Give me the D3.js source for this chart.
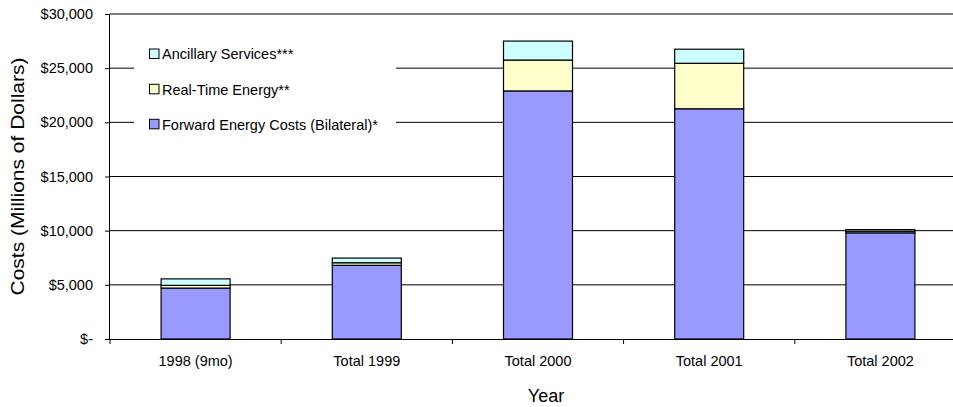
<!DOCTYPE html>
<html><head><meta charset="utf-8">
<script src="https://cdn.jsdelivr.net/npm/d3@7"></script>
<style>body{margin:0;background:#fff}svg{display:block}text{font-family:"Liberation Sans",Arial,sans-serif}</style>
</head><body>
<svg id="c" width="953" height="407"></svg>
<script>
const categories = ["1998 (9mo)", "Total 1999", "Total 2000", "Total 2001", "Total 2002"];
const forwardEnergy = [4700, 6800, 22900, 21250, 9800];
const realTimeEnergy = [250, 240, 2850, 4200, 150];
const ancillary = [600, 430, 1750, 1300, 150];
const seriesNames = ["Forward Energy Costs (Bilateral)*", "Real-Time Energy**", "Ancillary Services***"];
const seriesColors = ["#9999FF", "#FFFFCC", "#CCFFFF"];
const yTicks = [0, 5000, 10000, 15000, 20000, 25000, 30000];

const svg = d3.select("#c");
const pLeft = 110, pRight = 966, pTop = 14, pBottom = 339;
const x = d3.scaleBand().domain(categories).range([pLeft, pRight]).paddingInner(0.597).paddingOuter(0.2985);
const y = d3.scaleLinear().domain([0, 30000]).range([pBottom, pTop]);

// gridlines
svg.append("g").selectAll("line").data(yTicks.filter(d => d > 0)).join("line")
  .attr("x1", pLeft).attr("x2", pRight).attr("y1", d => y(d)).attr("y2", d => y(d))
  .attr("stroke", "#000").attr("stroke-width", 1);

// stacked bars
const rows = categories.map((c, i) => ({cat: c, s0: forwardEnergy[i], s1: realTimeEnergy[i], s2: ancillary[i]}));
const stack = d3.stack().keys(["s0", "s1", "s2"])(rows);
svg.append("g").selectAll("g").data(stack).join("g")
  .attr("fill", (d, i) => seriesColors[i])
  .selectAll("rect").data(d => d).join("rect")
  .attr("x", d => x(d.data.cat)).attr("width", x.bandwidth())
  .attr("y", d => y(d[1])).attr("height", d => y(d[0]) - y(d[1]))
  .attr("stroke", "#000").attr("stroke-width", 1.2);

// legend
const lg = svg.append("g");
lg.append("rect").attr("x", 134).attr("y", 36).attr("width", 262).attr("height", 106).attr("fill", "#fff");
const legendOrder = [2, 1, 0];
const legendY = [54, 89.3, 124.3];
legendOrder.forEach((si, k) => {
  lg.append("rect").attr("x", 149.5).attr("y", legendY[k] - 5).attr("width", 9.5).attr("height", 9.5)
    .attr("fill", seriesColors[si]).attr("stroke", "#000").attr("stroke-width", 1);
  lg.append("text").attr("x", 162).attr("y", legendY[k]).attr("dy", "0.36em")
    .attr("font-size", "14.5px").attr("fill", "#000").text(seriesNames[si]);
});

// y axis
const ya = svg.append("g").attr("transform", `translate(${pLeft},0)`)
  .call(d3.axisLeft(y).tickValues(yTicks).tickSize(5).tickPadding(12)
    .tickFormat(d => d === 0 ? "$-" : "$" + d3.format(",")(d)));
ya.select(".domain").attr("d", `M-0.5,${pTop}V${pBottom}`).attr("stroke", "#000");
ya.selectAll("text").attr("font-size", "14.5px").attr("font-family", "Liberation Sans, Arial, sans-serif").attr("fill", "#000");
ya.selectAll("line").attr("stroke", "#000");

// x axis
const xa = svg.append("g").attr("transform", `translate(0,${pBottom})`)
  .call(d3.axisBottom(x).tickSize(0).tickPadding(17).tickSizeOuter(0));
xa.select(".domain").attr("d", `M${pLeft},0.5H${pRight}`).attr("stroke", "#000");
xa.selectAll("text").attr("font-size", "14.5px").attr("font-family", "Liberation Sans, Arial, sans-serif").attr("fill", "#000");
svg.append("g").selectAll("line").data(d3.range(categories.length + 1)).join("line")
  .attr("x1", i => pLeft + i * x.step()).attr("x2", i => pLeft + i * x.step())
  .attr("y1", pBottom).attr("y2", pBottom + 5).attr("stroke", "#000");

// titles
svg.append("text").attr("x", 546).attr("y", 401.5).attr("text-anchor", "middle")
  .attr("font-size", "18px").attr("fill", "#000").text("Year");
svg.append("text").attr("transform", `translate(24,${(pTop + pBottom) / 2}) rotate(-90)`)
  .attr("text-anchor", "middle").attr("font-size", "18px").attr("fill", "#000")
  .attr("textLength", 238).attr("lengthAdjust", "spacingAndGlyphs")
  .text("Costs (Millions of Dollars)");
</script>
</body></html>
